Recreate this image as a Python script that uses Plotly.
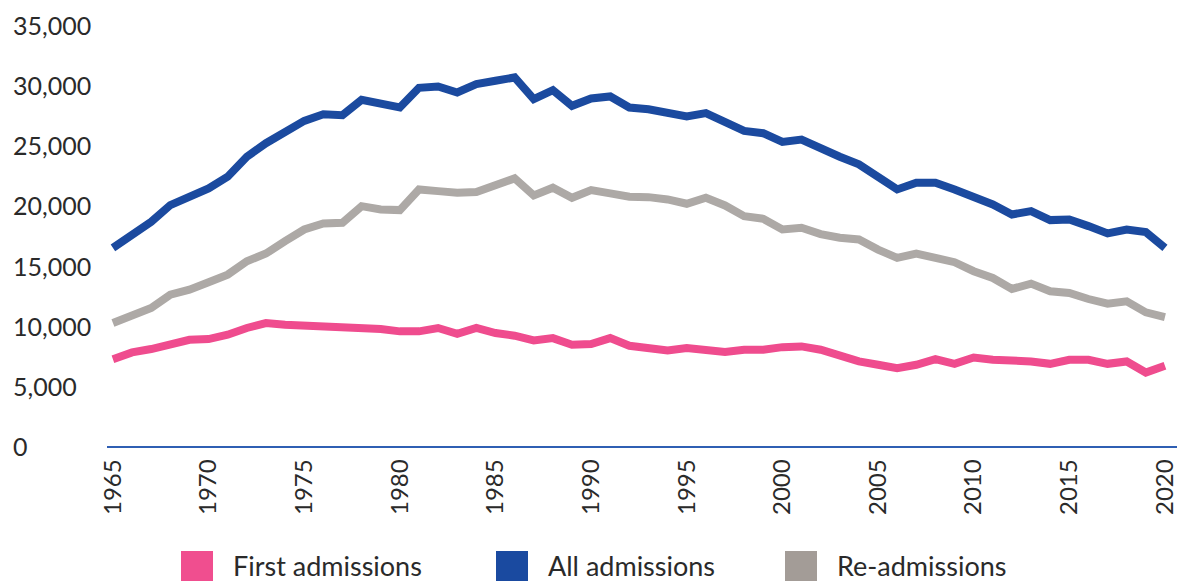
import plotly.graph_objects as go

years = list(range(1965, 2021))

all_admissions = [
    16470, 17530, 18640, 20030, 20780, 21420, 22390, 24050, 25170, 26110,
    27030, 27580, 27500, 28780, 28470, 28140, 29780, 29890, 29390, 30080,
    30360, 30640, 28830, 29580, 28280, 28890, 29060, 28140, 28000, 27670,
    27390, 27670, 26940, 26190, 26000, 25280, 25470, 24700, 24050, 23420,
    22300, 21330, 21890, 21890, 21330, 20780, 20080, 19250, 19530, 18780,
    18830, 18280, 17670, 18000, 17780, 16470,
]

re_admissions = [
    10220, 10780, 11470, 12580, 13000, 13610, 14250, 15360, 16000, 17030,
    18000, 18500, 18560, 19940, 19670, 19610, 21330, 21190, 21060, 21110,
    21750, 22250, 20830, 21470, 20640, 21280, 21000, 20720, 20690, 20500,
    20140, 20640, 20000, 19110, 18890, 18000, 18140, 17620, 17310, 17170,
    16330, 15640, 16000, 15640, 15280, 14530, 13970, 13060, 13500, 12860,
    12720, 12220, 11830, 12030, 11110, 10720,
]

first_admissions = [
    7220, 7780, 8060, 8420, 8830, 8890, 9250, 9810, 10220, 10080,
    10000, 10080, 9890, 9810, 9720, 9530, 9530, 9810, 9330, 9810,
    9390, 9170, 8780, 8970, 8420, 8470, 8970, 8330, 8190, 7940,
    8140, 8000, 7810, 8000, 8000, 8220, 8280, 8000, 7500, 7030,
    6750, 6470, 6750, 7220, 6830, 7360, 7170, 7170, 7030, 6830,
    7170, 7170, 6830, 7030, 6110, 6670,
]

x_tick_vals = list(range(1965, 2021, 5))
y_tick_vals = [0, 5000, 10000, 15000, 20000, 25000, 30000, 35000]
y_tick_text = ["0", "5,000", "10,000", "15,000", "20,000", "25,000", "30,000", "35,000"]

legend_names = ["First admissions", "All admissions", "Re-admissions"]

PINK = "#EF4C8E"
BLUE = "#1B4A9F"
GREY = "#ADA9A6"
LEG_COLORS = {"First admissions": "#F04E8F", "All admissions": "#1A4AA0", "Re-admissions": "#A39C97"}
FONT = "Lato, 'Open Sans', sans-serif"
TXT = "#2a2a2a"

# layout geometry (pixels)
W, H = 1177, 581
ML, MR, MT, MB = 107, 0, 25, 135
PW, PH = W - ML - MR, H - MT - MB


def px_x(p):
    return (p - ML) / PW


def px_y(p):
    return (H - MB - p) / PH


fig = go.Figure()

for name, vals, col in [
    ("Re-admissions", re_admissions, GREY),
    ("All admissions", all_admissions, BLUE),
    ("First admissions", first_admissions, PINK),
]:
    fig.add_trace(go.Scatter(
        x=years, y=vals, mode="lines", name=name,
        line=dict(color=col, width=8), showlegend=False,
        hoverinfo="x+y+name",
    ))

# y tick labels, left aligned
for v, t in zip(y_tick_vals, y_tick_text):
    fig.add_annotation(
        x=px_x(10.5), xref="paper", y=v, yref="y",
        text=t, showarrow=False, xanchor="left", yanchor="middle",
        font=dict(family=FONT, size=25, color=TXT),
    )

# legend: square swatches + labels
swatch_left = [181, 496, 785]
text_left = [231, 545.5, 834.5]
for name, sx, tx in zip(legend_names, swatch_left, text_left):
    fig.add_shape(
        type="rect", xref="paper", yref="paper",
        x0=px_x(sx), x1=px_x(sx + 32), y0=px_y(551), y1=px_y(583),
        fillcolor=LEG_COLORS[name], line=dict(width=0), layer="above",
    )
    fig.add_annotation(
        x=px_x(tx), xref="paper", y=px_y(565), yref="paper",
        text=name, showarrow=False, xanchor="left", yanchor="middle",
        font=dict(family=FONT, size=27, color=TXT),
    )

fig.update_layout(
    width=W, height=H,
    margin=dict(l=ML, r=MR, t=MT, b=MB, autoexpand=False),
    paper_bgcolor="white", plot_bgcolor="white",
    font=dict(family=FONT, color=TXT),
    showlegend=False,
    xaxis=dict(
        range=[1964.69, 2020.63], tickvals=x_tick_vals,
        tickangle=-90, tickfont=dict(family=FONT, size=24, color=TXT),
        showgrid=False, zeroline=False, showline=True,
        linecolor="#2F5FB3", linewidth=1.5, ticks="", ticklabelstandoff=2,
        ticklabeloverflow="allow", automargin=False, fixedrange=True,
    ),
    yaxis=dict(
        range=[0, 35000], tickvals=y_tick_vals, showticklabels=False,
        showgrid=False, zeroline=False, showline=False, ticks="",
        automargin=False, fixedrange=True,
    ),
)

fig.write_html(
    "out.html",
    config={"displayModeBar": False},
    post_script="document.body.style.margin='0';document.body.style.padding='0';",
)
